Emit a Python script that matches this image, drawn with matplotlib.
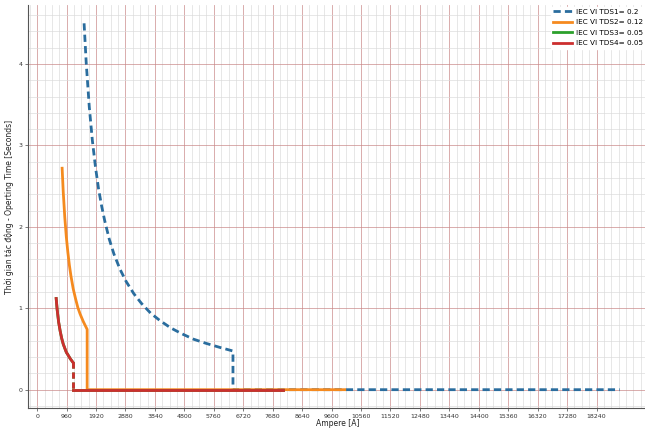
import matplotlib
matplotlib.use("Agg")
import matplotlib.pyplot as plt
from matplotlib.ticker import MultipleLocator

# Series 1: IEC VI TDS1 = 0.2 (blue dashed)
i1 = [1530, 1600, 1700, 1800, 1900, 2000, 2100, 2200, 2350, 2500, 2700, 2900, 3150,
      3400, 3700, 4000, 4350, 4700, 5100, 5500, 5950, 6385, 6385, 19000]
t1 = [4.50, 4.01, 3.47, 3.06, 2.74, 2.47, 2.26, 2.08, 1.85, 1.67, 1.48, 1.33, 1.18,
      1.06, 0.94, 0.85, 0.76, 0.69, 0.62, 0.57, 0.52, 0.475, 0.0, 0.0]

# Series 2: IEC VI TDS2 = 0.12 (orange)
i2 = [814, 850, 900, 950, 1000, 1050, 1100, 1175, 1250, 1325, 1400, 1500, 1630, 1630, 10030]
t2 = [2.72, 2.43, 2.12, 1.88, 1.69, 1.53, 1.40, 1.24, 1.12, 1.01, 0.93, 0.84, 0.74, 0.0, 0.0]

# Series 3 / 4: IEC VI TDS3 = 0.05 and TDS4 = 0.05 (same values, red drawn over green)
i34_curve = [620, 650, 700, 750, 800, 850, 900, 950, 1000, 1080, 1170]
t34_curve = [1.12, 0.99, 0.83, 0.72, 0.63, 0.56, 0.51, 0.46, 0.43, 0.38, 0.334]
i34_drop = [1170, 1170]
t34_drop = [0.334, 0.0]
i34_zero = [1170, 8010]
t34_zero = [0.0, 0.0]

labels = ["IEC VI TDS1= 0.2", "IEC VI TDS2= 0.12", "IEC VI TDS3= 0.05", "IEC VI TDS4= 0.05"]
x_ticks = list(range(0, 18241, 960))
y_ticks = [0, 1, 2, 3, 4]

c_blue, c_orange, c_green, c_red = "#2a6d9e", "#f58a1f", "#2ca02c", "#cc2f2f"

fig = plt.figure(figsize=(6.45, 4.29), dpi=100)
ax = fig.add_axes([28/645, 1 - 408/429, 620/645, 403/429])

dash_drop = (0, (2.2, 1.4))
l1, = ax.plot(i1, t1, color=c_blue, lw=2.0, ls=(0, (2.6, 1.5)), label=labels[0])
l2, = ax.plot(i2, t2, color=c_orange, lw=2.0, label=labels[1])
l3, = ax.plot(i34_curve, t34_curve, color=c_green, lw=2.0, label=labels[2])
ax.plot(i34_drop, t34_drop, color=c_green, lw=2.0, ls=dash_drop)
ax.plot(i34_zero, t34_zero, color=c_green, lw=2.0)
l4, = ax.plot(i34_curve, t34_curve, color=c_red, lw=2.0, label=labels[3])
ax.plot(i34_drop, t34_drop, color=c_red, lw=2.0, ls=dash_drop)
ax.plot(i34_zero, t34_zero, color=c_red, lw=2.0)

ax.set_xticks(x_ticks)
ax.set_yticks(y_ticks)
ax.xaxis.set_minor_locator(MultipleLocator(240))
ax.yaxis.set_minor_locator(MultipleLocator(0.2))
ax.grid(which="major", color="#c98686", lw=0.6, alpha=0.8)
ax.grid(which="minor", color="#d9d9d9", lw=0.5, alpha=0.9)
ax.set_axisbelow(True)

ax.tick_params(axis="both", which="major", labelsize=4.5, length=2, width=0.5, pad=2,
               colors="#444444", labelcolor="#333333")
ax.tick_params(axis="both", which="minor", length=0)
for s in ["top", "right"]:
    ax.spines[s].set_visible(False)
for s in ["left", "bottom"]:
    ax.spines[s].set_color("#555555")
    ax.spines[s].set_linewidth(0.8)

ax.set_xlabel("Ampere [A]", fontsize=5.5, labelpad=0.5, color="#222222")
ax.set_ylabel("Thời gian tác động - Operting Time [Seconds]", fontsize=5.5, labelpad=3, color="#222222")

fig.legend(handles=[l1, l2, l3, l4], loc="upper left", bbox_to_anchor=(547/645, 1 - 3/429),
           fontsize=5.2, frameon=True, framealpha=1.0, edgecolor="white", facecolor="white",
           handlelength=2.6, handletextpad=0.6, labelspacing=0.62, borderpad=0.3)

fig.savefig("out.png", dpi=100)
